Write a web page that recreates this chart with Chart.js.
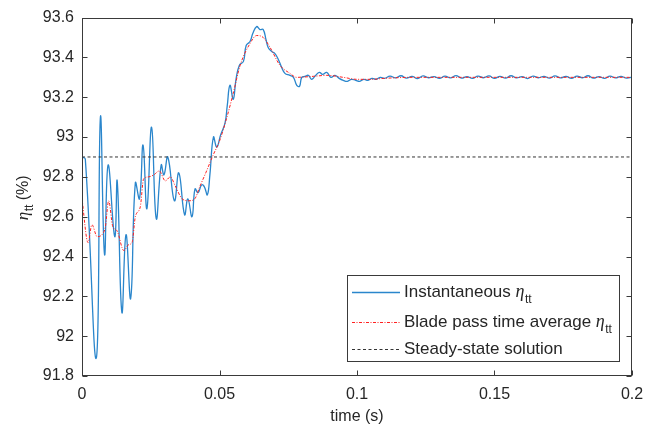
<!DOCTYPE html>
<html>
<head>
<meta charset="utf-8">
<script src="https://cdn.jsdelivr.net/npm/chart.js@4.4.0/dist/chart.umd.min.js"></script>
<style>
  html, body { margin: 0; padding: 0; background: #fff; }
  #wrap { width: 653px; height: 429px; position: relative; }
</style>
</head>
<body>
<div id="wrap"><canvas id="effChart"></canvas></div>
<script>
// instantaneous efficiency (blue)
const instTime = [0, 0.0012, 0.0052, 0.0067, 0.0082, 0.0095, 0.0119, 0.0128, 0.0145, 0.0160,
  0.0177, 0.0194, 0.0209, 0.0222, 0.0236, 0.0253, 0.0270, 0.0288, 0.0298, 0.0312,
  0.0336, 0.0352, 0.0373, 0.0385, 0.0400, 0.0411, 0.0422, 0.0435, 0.0445, 0.0456,
  0.0465, 0.0478, 0.0490, 0.0504, 0.0520, 0.0528, 0.0538, 0.0550, 0.0560, 0.0572,
  0.0587, 0.0597, 0.0611, 0.0621, 0.0635, 0.0647, 0.0659, 0.0669, 0.0677, 0.0690,
  0.0701, 0.0714, 0.0726, 0.0738, 0.0756, 0.0769, 0.0781, 0.0791, 0.0799, 0.0811,
  0.0823, 0.0835, 0.0847, 0.0863, 0.0875, 0.0890, 0.0905, 0.0920, 0.0935, 0.0950,
  0.0965, 0.0980, 0.0995, 0.1010, 0.1025, 0.1040, 0.1055, 0.1070, 0.1085, 0.1100,
  0.112, 0.114, 0.116, 0.118, 0.120, 0.122, 0.124, 0.126, 0.128, 0.130,
  0.132, 0.134, 0.136, 0.138, 0.140, 0.142, 0.144, 0.146, 0.148, 0.150,
  0.152, 0.154, 0.156, 0.158, 0.160, 0.162, 0.164, 0.166, 0.168, 0.170,
  0.172, 0.174, 0.176, 0.178, 0.180, 0.182, 0.184, 0.186, 0.188, 0.190,
  0.192, 0.194, 0.196, 0.198, 0.200];
const instEff = [92.90, 92.89, 91.89, 93.10, 92.41, 92.86, 92.50, 92.78, 92.12, 92.51,
  92.19, 92.77, 92.69, 92.96, 92.64, 93.05, 92.59, 92.86, 92.81, 92.90,
  92.68, 92.82, 92.61, 92.69, 92.60, 92.74, 92.72, 92.76, 92.75, 92.71,
  92.81, 93.00, 92.95, 93.01, 93.07, 93.155, 93.26, 93.19, 93.29, 93.36,
  93.38, 93.46, 93.48, 93.52, 93.555, 93.54, 93.54, 93.49, 93.45, 93.43,
  93.42, 93.39, 93.35, 93.32, 93.31, 93.30, 93.26, 93.255, 93.30, 93.305,
  93.31, 93.29, 93.305, 93.325, 93.315, 93.325, 93.30, 93.31, 93.295, 93.285,
  93.28, 93.29, 93.285, 93.28, 93.29, 93.285, 93.295, 93.29, 93.30, 93.295,
  93.306, 93.297, 93.308, 93.296, 93.305, 93.294, 93.307, 93.298, 93.304, 93.295,
  93.306, 93.297, 93.309, 93.296, 93.304, 93.295, 93.306, 93.298, 93.307, 93.295,
  93.305, 93.296, 93.308, 93.297, 93.304, 93.294, 93.306, 93.298, 93.305, 93.296,
  93.307, 93.297, 93.305, 93.295, 93.306, 93.298, 93.308, 93.296, 93.304, 93.295,
  93.306, 93.297, 93.305, 93.296, 93.301];

// blade pass time average (red)
const avgTime = [0, 0.0022, 0.0036, 0.0055, 0.0073, 0.0085, 0.0097, 0.0112, 0.0127, 0.0152,
  0.0170, 0.0182, 0.0194, 0.0212, 0.0224, 0.0242, 0.0261, 0.0281, 0.0303, 0.0321,
  0.0339, 0.0364, 0.0388, 0.0410, 0.0428, 0.0450, 0.0477, 0.0500, 0.0527, 0.0550,
  0.0575, 0.0611, 0.0635, 0.0659, 0.0684, 0.0720, 0.0756, 0.0780, 0.0841, 0.0890,
  0.0950, 0.1000, 0.1050, 0.1100, 0.1200, 0.1400, 0.1600, 0.1800, 0.2000];
const avgEff = [92.69, 92.47, 92.56, 92.50, 92.51, 92.55, 92.68, 92.55, 92.53, 92.43,
  92.46, 92.47, 92.60, 92.65, 92.79, 92.80, 92.81, 92.83, 92.78, 92.80,
  92.755, 92.69, 92.68, 92.69, 92.75, 92.82, 92.91, 92.98, 93.10, 93.22,
  93.36, 93.47, 93.51, 93.50, 93.45, 93.36, 93.32, 93.30, 93.305, 93.31,
  93.30, 93.29, 93.29, 93.295, 93.30, 93.30, 93.30, 93.30, 93.30];

// steady-state solution (black dashed)
const steadyTime = [0, 0.2];
const steadyEff = [92.9, 92.9];

const xTicks = [0, 0.05, 0.1, 0.15, 0.2];
const xTickLabels = ['0', '0.05', '0.1', '0.15', '0.2'];
const yTicks = [91.8, 92, 92.2, 92.4, 92.6, 92.8, 93, 93.2, 93.4, 93.6];
const yTickLabels = ['91.8', '92', '92.2', '92.4', '92.6', '92.8', '93', '93.2', '93.4', '93.6'];
const legendLabels = ['Instantaneous ', 'Blade pass time average ', 'Steady-state solution'];

const blue = '#2a86cc';
const red = '#ff2020';
const textColor = '#262626';
const frameColor = '#3a3a3a';
const sans = '"Liberation Sans", Arial, sans-serif';
const serif = '"Liberation Serif", "DejaVu Serif", serif';

const toPoints = (xs, ys) => xs.map((t, i) => ({ x: t, y: ys[i] }));

// italic eta with "tt" subscript, starting at x on baseline y
function drawEta(ctx, x, y, eta, sub, drop) {
    ctx.font = 'italic ' + eta + 'px ' + serif;
    ctx.fillText('\u03B7', x, y);
    x += ctx.measureText('\u03B7').width + 0.5;
    ctx.font = sub + 'px ' + sans;
    ctx.fillText('tt', x, y + drop);
    return x + ctx.measureText('tt').width;
}

const matlabAxes = {
    id: 'matlabAxes',
    afterDraw(chart) {
        const { ctx, chartArea: a, scales } = chart;
        const L = Math.round(a.left) + 0.5, R = Math.round(a.right) - 0.5;
        const T = Math.round(a.top) + 0.5, B = Math.round(a.bottom) - 0.5;
        ctx.save();
        ctx.strokeStyle = frameColor;
        ctx.lineWidth = 1;
        ctx.strokeRect(L, T, R - L, B - T);
        ctx.beginPath();
        xTicks.forEach(v => {
            const px = Math.round(scales.x.getPixelForValue(v)) + 0.5;
            ctx.moveTo(px, B); ctx.lineTo(px, B - 5);
            ctx.moveTo(px, T); ctx.lineTo(px, T + 5);
        });
        yTicks.forEach(v => {
            const py = Math.round(scales.y.getPixelForValue(v)) + 0.5;
            ctx.moveTo(L, py); ctx.lineTo(L + 5, py);
            ctx.moveTo(R, py); ctx.lineTo(R - 5, py);
        });
        ctx.stroke();

        // y axis title: eta_tt (%)
        ctx.fillStyle = textColor;
        ctx.textBaseline = 'alphabetic';
        ctx.translate(28, (a.top + a.bottom) / 2 + 1);
        ctx.rotate(-Math.PI / 2);
        ctx.font = 'italic 17px ' + serif;
        const w1 = ctx.measureText('\u03B7').width + 0.5;
        ctx.font = '12px ' + sans;
        const w2 = ctx.measureText('tt').width;
        ctx.font = '16px ' + sans;
        const w3 = ctx.measureText(' (%)').width;
        let sx = -(w1 + w2 + w3) / 2;
        sx = drawEta(ctx, sx, 0, 17, 12, 5);
        ctx.font = '16px ' + sans;
        ctx.fillText(' (%)', sx, 0);
        ctx.restore();

        // legend
        ctx.save();
        const bx = 347.5, by = 275.5, bw = 272, bh = 86;
        ctx.fillStyle = '#fff';
        ctx.fillRect(bx, by, bw, bh);
        ctx.strokeStyle = frameColor;
        ctx.lineWidth = 1;
        ctx.strokeRect(bx, by, bw, bh);
        const rows = [292, 322, 349];
        const styles = [
            { c: blue, d: [], w: 1.3 },
            { c: red, d: [3, 1.5, 1, 1.5], w: 1 },
            { c: '#333', d: [3, 2.5], w: 1 }
        ];
        rows.forEach((ry, i) => {
            ctx.beginPath();
            ctx.strokeStyle = styles[i].c;
            ctx.lineWidth = styles[i].w;
            ctx.setLineDash(styles[i].d);
            ctx.moveTo(352, ry + 0.5);
            ctx.lineTo(400, ry + 0.5);
            ctx.stroke();
            ctx.setLineDash([]);
            ctx.fillStyle = textColor;
            ctx.font = '17px ' + sans;
            ctx.textBaseline = 'alphabetic';
            ctx.fillText(legendLabels[i], 404, ry + 5);
            if (i < 2) {
                const tx = 404 + ctx.measureText(legendLabels[i]).width;
                drawEta(ctx, tx, ry + 5, 18, 12, 6);
            }
        });
        ctx.restore();
    }
};

const ctx = document.getElementById('effChart').getContext('2d');
new Chart(ctx, {
    type: 'line',
    data: {
        datasets: [
            {
                label: 'Instantaneous',
                data: toPoints(instTime, instEff),
                borderColor: blue,
                borderWidth: 1.3,
                pointRadius: 0,
                tension: 0.45,
                order: 3
            },
            {
                label: 'Blade pass time average',
                data: toPoints(avgTime, avgEff),
                borderColor: red,
                borderWidth: 1,
                borderDash: [3, 1.5, 1, 1.5],
                pointRadius: 0,
                cubicInterpolationMode: 'monotone',
                order: 2
            },
            {
                label: 'Steady-state solution',
                data: toPoints(steadyTime, steadyEff),
                borderColor: '#333',
                borderWidth: 1,
                borderDash: [3, 2.5],
                pointRadius: 0,
                order: 1
            }
        ]
    },
    options: {
        responsive: true,
        maintainAspectRatio: false,
        animation: false,
        events: [],
        layout: { padding: { top: 16, right: 21, left: 0, bottom: 0 } },
        plugins: {
            legend: { display: false },
            tooltip: { enabled: false }
        },
        scales: {
            x: {
                type: 'linear',
                min: 0,
                max: 0.2,
                afterBuildTicks: s => { s.ticks = xTicks.map(v => ({ value: v })); },
                afterFit: s => { s.height = 53; },
                grid: { display: false, drawTicks: false },
                border: { display: false },
                ticks: {
                    color: textColor,
                    font: { family: sans, size: 16 },
                    padding: 9,
                    maxRotation: 0,
                    callback: (v, i) => xTickLabels[i]
                },
                title: {
                    display: true,
                    text: 'time (s)',
                    color: textColor,
                    font: { family: sans, size: 16 },
                    padding: { top: 4, bottom: 3 }
                }
            },
            y: {
                min: 91.8,
                max: 93.6,
                afterBuildTicks: s => { s.ticks = yTicks.map(v => ({ value: v })); },
                afterFit: s => { s.width = 82; },
                grid: { display: false, drawTicks: false },
                border: { display: false },
                ticks: {
                    color: textColor,
                    font: { family: sans, size: 16 },
                    padding: 8,
                    callback: (v, i) => yTickLabels[i]
                }
            }
        }
    },
    plugins: [matlabAxes]
});
</script>
</body>
</html>
